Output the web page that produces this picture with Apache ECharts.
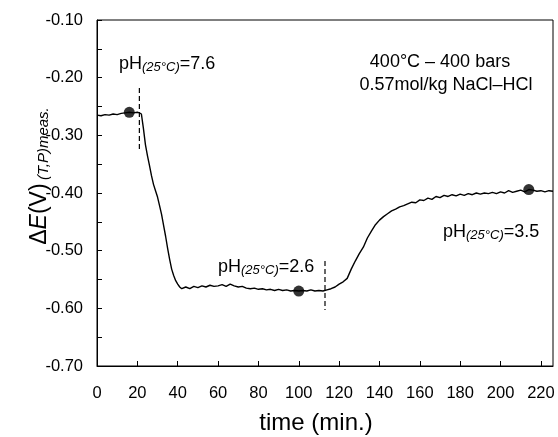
<!DOCTYPE html>
<html>
<head>
<meta charset="utf-8">
<script src="https://cdn.jsdelivr.net/npm/echarts@6/dist/echarts.min.js"></script>
<style>
  html, body { margin: 0; padding: 0; background: #fff; }
  #chart { width: 558px; height: 437px; }
</style>
</head>
<body>
<div id="chart"></div>
<script>
// Potential difference recorded against time (minutes)
const timeMin = [
  0, 2, 4, 6, 8, 10, 12, 14, 16, 18, 20, 21, 22, 23, 24, 25, 26, 27, 28, 29,
  30, 31, 32, 33, 34, 35, 36, 37, 38, 39, 40, 41, 42, 44, 46, 48, 50, 52, 54, 56,
  58, 60, 62, 64, 66, 68, 70, 72, 74, 76, 78, 80, 82, 84, 86, 88, 90, 92, 94, 96,
  98, 100, 102, 104, 106, 108, 110, 112, 114, 116, 118, 120, 122, 124, 126, 128, 130, 132, 134, 136,
  138, 140, 142, 144, 146, 148, 150, 152, 154, 156, 158, 160, 162, 164, 166, 168, 170, 172, 174, 176,
  178, 180, 182, 184, 186, 188, 190, 192, 194, 196, 198, 200, 202, 204, 206, 208, 210, 212, 214, 216,
  218, 220, 222, 224, 226
];
const deltaE = [
  -0.265, -0.266, -0.264, -0.265, -0.263, -0.264, -0.262, -0.261, -0.260, -0.261, -0.260, -0.261, -0.263, -0.288, -0.316, -0.335, -0.352, -0.370, -0.385, -0.396,
  -0.407, -0.422, -0.437, -0.456, -0.475, -0.496, -0.515, -0.532, -0.543, -0.552, -0.558, -0.563, -0.566, -0.563, -0.566, -0.562, -0.564, -0.561, -0.563, -0.560,
  -0.562, -0.561, -0.559, -0.562, -0.558, -0.561, -0.563, -0.562, -0.565, -0.566, -0.565, -0.567, -0.566, -0.568, -0.567, -0.569, -0.567, -0.569, -0.568, -0.570,
  -0.569, -0.570, -0.569, -0.570, -0.568, -0.570, -0.569, -0.570, -0.568, -0.566, -0.563, -0.558, -0.554, -0.548, -0.532, -0.518, -0.505, -0.494, -0.478, -0.466,
  -0.455, -0.447, -0.441, -0.436, -0.431, -0.428, -0.424, -0.422, -0.419, -0.416, -0.417, -0.412, -0.413, -0.409, -0.411, -0.406, -0.408, -0.404, -0.406, -0.403,
  -0.405, -0.402, -0.404, -0.401, -0.403, -0.400, -0.402, -0.400, -0.401, -0.399, -0.401, -0.398, -0.400, -0.396, -0.399, -0.397, -0.395, -0.398, -0.394, -0.395,
  -0.397, -0.396, -0.398, -0.396, -0.397
];

// Sampling points used for the pH readings
const sampleTime = [16, 100, 214];
const sampleE = [-0.260, -0.570, -0.394];

// Moments when the solution was changed (dashed markers)
const switchTime = [21, 113];
const switchTop = [-0.218, -0.518];
const switchBottom = [-0.325, -0.603];

const xTicks = { min: 0, max: 226, step: 20 };
const yTicks = { min: -0.70, max: -0.10, step: 0.10 };

const FONT = '"Liberation Sans", Arial, sans-serif';

const chart = echarts.init(document.getElementById('chart'), null, { renderer: 'canvas' });

const curve = timeMin.map((t, i) => [t, deltaE[i]]);
const samples = sampleTime.map((t, i) => [t, sampleE[i]]);
const switchSeries = switchTime.map((t, i) => ({
  type: 'line',
  data: [[t, switchTop[i]], [t, switchBottom[i]]],
  symbol: 'none',
  lineStyle: { color: '#000', width: 1.2, type: [5, 3] },
  silent: true,
  z: 3
}));

const phRich = {
  m: { fontFamily: FONT, fontSize: 18, color: '#000' },
  s: { fontFamily: FONT, fontSize: 13, fontStyle: 'italic', color: '#000', padding: [6, 0, 0, 0] }
};

chart.setOption({
  animation: false,
  backgroundColor: '#fff',
  grid: { left: 97, top: 20, right: 5, bottom: 71, show: true, borderColor: '#000', borderWidth: 1 },
  xAxis: {
    type: 'value',
    min: xTicks.min, max: xTicks.max, interval: xTicks.step,
    axisLine: { onZero: false, lineStyle: { color: '#000', width: 1 } },
    axisTick: { inside: true, length: 5, lineStyle: { color: '#000' } },
    splitLine: { show: false },
    axisLabel: {
      showMaxLabel: false,
      color: '#000', fontFamily: FONT, fontSize: 16.5, margin: 19,
      formatter: v => (v % 20 === 0 ? String(v) : '')
    }
  },
  yAxis: {
    type: 'value',
    min: yTicks.min, max: yTicks.max, interval: yTicks.step,
    axisLine: { lineStyle: { color: '#000', width: 1 } },
    axisTick: { inside: true, length: 5, lineStyle: { color: '#000' } },
    minorTick: { show: true, splitNumber: 2, length: 5, lineStyle: { color: '#000' } },
    splitLine: { show: false },
    axisLabel: {
      color: '#000', fontFamily: FONT, fontSize: 16.5, margin: 14,
      formatter: v => v.toFixed(2)
    }
  },
  series: [
    {
      type: 'line',
      data: curve,
      symbol: 'none',
      lineStyle: { color: '#000', width: 1.4 },
      z: 2
    },
    ...switchSeries,
    {
      type: 'scatter',
      data: samples,
      symbol: 'circle',
      symbolSize: 11,
      itemStyle: { color: '#000' },
      z: 4
    }
  ],
  graphic: [
    {
      type: 'text', x: 119, y: 64,
      style: { text: '{m|pH}{s|(25°C)}{m|=7.6}', rich: phRich, textAlign: 'left', textVerticalAlign: 'middle' }
    },
    {
      type: 'text', x: 218, y: 267,
      style: { text: '{m|pH}{s|(25°C)}{m|=2.6}', rich: phRich, textAlign: 'left', textVerticalAlign: 'middle' }
    },
    {
      type: 'text', x: 443, y: 232,
      style: { text: '{m|pH}{s|(25°C)}{m|=3.5}', rich: phRich, textAlign: 'left', textVerticalAlign: 'middle' }
    },
    {
      type: 'text', x: 440, y: 62,
      style: { text: '400°C – 400 bars', fontFamily: FONT, fontSize: 18, fill: '#000', textAlign: 'center', textVerticalAlign: 'middle' }
    },
    {
      type: 'text', x: 446, y: 85,
      style: { text: '0.57mol/kg NaCl–HCl', fontFamily: FONT, fontSize: 18, fill: '#000', textAlign: 'center', textVerticalAlign: 'middle' }
    },
    {
      type: 'text', x: 316, y: 423,
      style: { text: 'time (min.)', fontFamily: FONT, fontSize: 24, fill: '#000', textAlign: 'center', textVerticalAlign: 'middle' }
    },
    {
      type: 'text', x: 40, y: 176, rotation: Math.PI / 2,
      style: {
        text: '{d|Δ}{e|E}{d|(V)} {s|(T,P)meas.}',
        textAlign: 'center', textVerticalAlign: 'middle',
        rich: {
          d: { fontFamily: FONT, fontSize: 23, color: '#000' },
          e: { fontFamily: FONT, fontSize: 23, fontStyle: 'italic', color: '#000' },
          s: { fontFamily: FONT, fontSize: 15, fontStyle: 'italic', color: '#000', padding: [7, 0, 0, 0] }
        }
      }
    }
  ]
});
</script>
</body>
</html>
